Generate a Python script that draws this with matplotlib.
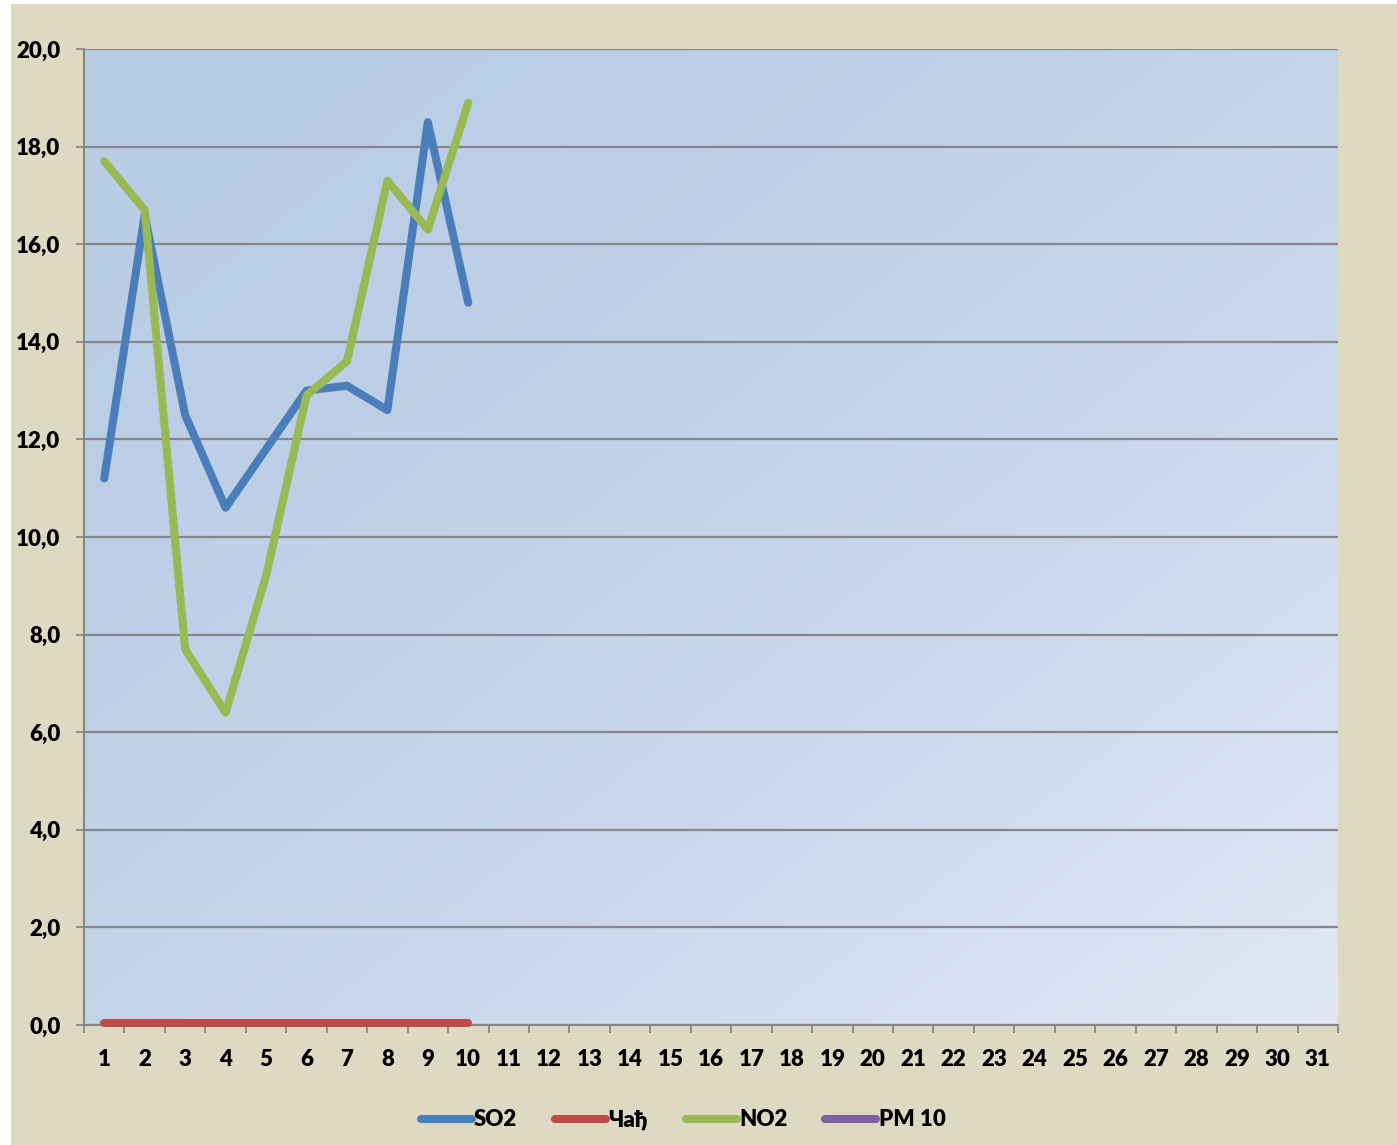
import matplotlib
matplotlib.use("Agg")
import matplotlib.pyplot as plt
import numpy as np
from matplotlib.patches import Rectangle

# dani u mjesecu i izmjerene vrijednosti
dani = list(range(1, 32))
so2 = [11.2, 16.6, 12.5, 10.6, 11.8, 13.0, 13.1, 12.6, 18.5, 14.8]
cadj = [0.0, 0.0, 0.0, 0.0, 0.0, 0.0, 0.0, 0.0, 0.0, 0.0]
no2 = [17.7, 16.7, 7.7, 6.4, 9.2, 12.9, 13.6, 17.3, 16.3, 18.9]
pm10 = []
y_ticks = [0, 2, 4, 6, 8, 10, 12, 14, 16, 18, 20]

plt.rcParams['font.family'] = ['Lato', 'DejaVu Sans']
plt.rcParams['font.weight'] = 'heavy'

W, H = 1397, 1145
fig = plt.figure(figsize=(W / 100, H / 100), dpi=100)
fig.patch.set_facecolor('white')
# bez pozadina s malim bijelim rubom lijevo i gore
fig.patches.append(Rectangle((11 / W, 0), 1 - 11 / W, 1 - 4 / H,
                             transform=fig.transFigure, facecolor='#DDD9C3',
                             edgecolor='none', zorder=-10))

ax = fig.add_axes([84 / W, (H - 1025) / H, (1338 - 84) / W, (1025 - 49) / H])
ax.set_facecolor('none')

# dijagonalni gradijent u pozadini grafa (gore lijevo tamnije)
nx, ny = 200, 200
gx, gy = np.meshgrid(np.linspace(0, 1, nx), np.linspace(0, 1, ny))
t = (gx + gy) / 2.0
t = t ** 1.8
c0 = np.array([185, 205, 229]) / 255.0
c1 = np.array([225, 231, 245]) / 255.0
img = c0[None, None, :] * (1 - t[..., None]) + c1[None, None, :] * t[..., None]
ax.imshow(img, extent=[0.5, 31.5, 0, 20], aspect='auto', zorder=0,
          interpolation='bilinear')

ax.set_xlim(0.5, 31.5)
ax.set_ylim(0, 20)
ax.set_yticks(y_ticks)
ax.set_yticklabels([("%.1f" % v).replace('.', ',') for v in y_ticks])
ax.yaxis.grid(True, color='#868686', lw=1.6, zorder=1)
ax.set_axisbelow(True)

# kategorije: oznake u sredini, crtice na granicama
ax.set_xticks([d - 0.5 for d in dani] + [31.5])
ax.set_xticklabels([])
ax.set_xticks(dani, minor=True)
ax.set_xticklabels([str(d) for d in dani], minor=True)
ax.tick_params(axis='x', which='major', length=6, width=1.3, color='#868686', direction='out')
ax.tick_params(axis='x', which='minor', length=0, pad=17, labelsize=16)
ax.tick_params(axis='y', length=6, width=1.3, color='#868686', pad=11, labelsize=16)

for s in ['top', 'right']:
    ax.spines[s].set_visible(False)
for s in ['left', 'bottom']:
    ax.spines[s].set_color('#868686')
    ax.spines[s].set_linewidth(1.5)

kw = dict(lw=5.8, solid_capstyle='round', solid_joinstyle='round', clip_on=False, zorder=3)
ax.plot(dani[:len(so2)], so2, color='#4A7EBB', label='SO2', **kw)
ax.plot(dani[:len(cadj)], [v + 0.05 for v in cadj], color='#BE4B48', label='Чађ', **kw)
ax.plot(dani[:len(no2)], no2, color='#98B954', label='NO2', **kw)
ax.plot(dani[:len(pm10)], pm10, color='#7D60A0', label='PM 10', **kw)

leg = fig.legend(loc='center', bbox_to_anchor=(683 / W, 25 / H), ncol=4, frameon=False,
                 fontsize=16, handlelength=2.3, handletextpad=0.1, columnspacing=1.7)
for ln in leg.get_lines():
    ln.set_linewidth(5.8)
    ln.set_solid_capstyle('round')

fig.savefig('out.png', dpi=100, facecolor=fig.get_facecolor())
